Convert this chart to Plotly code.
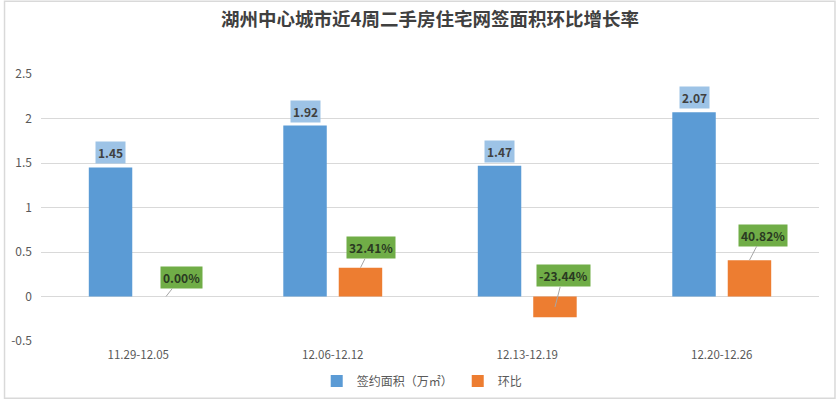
import plotly.graph_objects as go

categories = ["11.29-12.05", "12.06-12.12", "12.13-12.19", "12.20-12.26"]
area_values = [1.45, 1.92, 1.47, 2.07]          # 签约面积（万㎡）
ratio_values = [0.0, 0.3241, -0.2344, 0.4082]   # 环比
area_labels = ["1.45", "1.92", "1.47", "2.07"]
ratio_labels = ["0.00%", "32.41%", "-23.44%", "40.82%"]
y_ticks = [-0.5, 0, 0.5, 1, 1.5, 2, 2.5]
y_tick_text = ["-0.5", "0", "0.5", "1", "1.5", "2", "2.5"]

# label leader offsets (pixels) for the ratio labels
ratio_offsets = [(15, -19), (10, -20), (8, -31), (13, -25)]

FONT = "Noto Sans CJK SC"
BLUE = "#5B9BD5"
ORANGE = "#ED7D31"
GRID = "#D9D9D9"
TXT = "#595959"

fig = go.Figure()
fig.add_trace(go.Bar(x=categories, y=area_values, name="签约面积（万㎡）",
                     marker=dict(color=BLUE, line=dict(width=0))))
fig.add_trace(go.Bar(x=categories, y=ratio_values, name="环比",
                     marker=dict(color=ORANGE, line=dict(width=0))))

SHIFT = 27.75
annotations = []
for c, v, t in zip(categories, area_values, area_labels):
    annotations.append(dict(x=c, y=v, xref="x", yref="y", text="<b>%s</b>" % t,
                            showarrow=False, xshift=-SHIFT, yshift=14.5,
                            bgcolor="#9DC3E6", borderpad=2,
                            font=dict(family=FONT, size=12, color="#404040")))
for c, v, t, (ax, ay) in zip(categories, ratio_values, ratio_labels, ratio_offsets):
    py = v if v >= 0 else v / 2
    annotations.append(dict(x=c, y=py, xref="x", yref="y", text="<b>%s</b>" % t,
                            showarrow=True, arrowhead=0, arrowwidth=1,
                            arrowcolor="#A6A6A6", ax=ax, ay=ay,
                            xshift=SHIFT, bgcolor="#70AD47", borderpad=2,
                            font=dict(family=FONT, size=12, color="#2A3A22")))

fig.update_layout(
    width=836, height=401,
    margin=dict(l=40.5, r=17, t=73.8, b=60.2, autoexpand=False),
    paper_bgcolor="white", plot_bgcolor="white",
    barmode="group", bargap=0.43, bargroupgap=0.216,
    title=dict(text="<b>湖州中心城市近4周二手房住宅网签面积环比增长率</b>",
               x=0.5, xanchor="center", xref="paper", y=1 - 20 / 401, yanchor="middle",
               font=dict(family=FONT, size=18.5, color="#404040")),
    font=dict(family=FONT, size=12, color=TXT),
    xaxis=dict(type="category", showgrid=False, zeroline=False, showline=False,
               ticks="", ticklabelstandoff=5,
               tickfont=dict(family=FONT, size=11.5, color=TXT)),
    yaxis=dict(range=[-0.5, 2.5], tickvals=y_ticks, ticktext=y_tick_text,
               showgrid=True, gridcolor=GRID, gridwidth=1,
               zeroline=True, zerolinecolor=GRID, zerolinewidth=1,
               showline=False, ticks="", ticklabelstandoff=8,
               tickfont=dict(family=FONT, size=12, color=TXT)),
    legend=dict(orientation="h", x=0.49, xanchor="center",
                yref="container", y=1 - 381 / 401, yanchor="middle",
                font=dict(family=FONT, size=12, color=TXT), itemwidth=30,
                traceorder="normal"),
    annotations=annotations,
    shapes=[dict(type="rect", xref="paper", yref="paper",
                 x0=(4 - 40.5) / 778.5, x1=(835 - 40.5) / 778.5,
                 y0=(340.8 - 398) / 267, y1=(340.8 - 1) / 267,
                 line=dict(color="#D9D9D9", width=1.5), layer="below")],
)

fig.write_html("out.html")
